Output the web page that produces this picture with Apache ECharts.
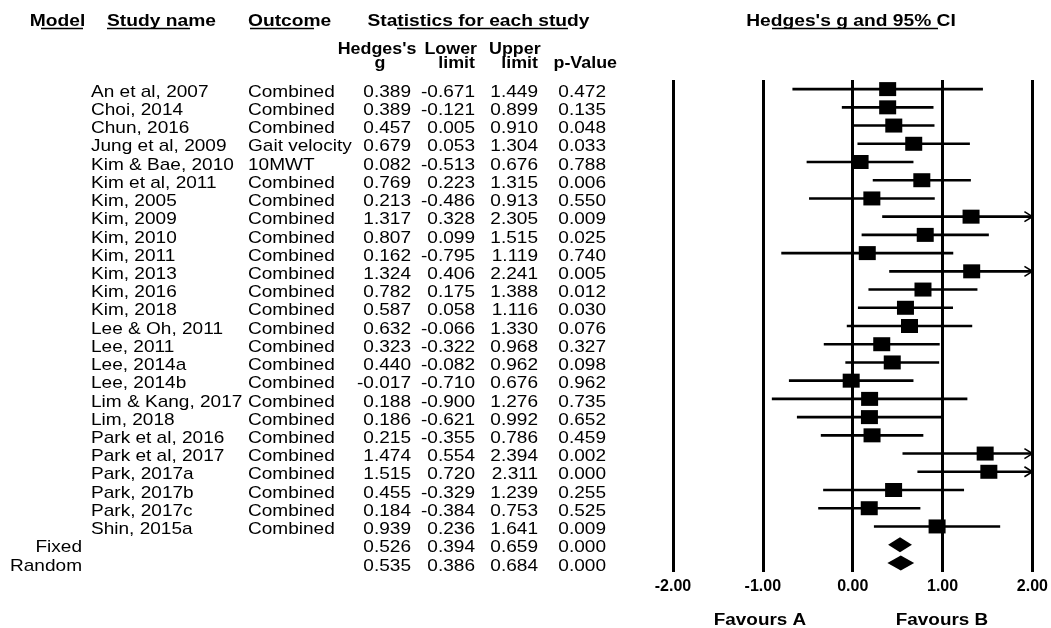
<!DOCTYPE html>
<html><head><meta charset="utf-8">
<script src="https://cdn.jsdelivr.net/npm/echarts@6/dist/echarts.min.js"></script>
<style>html,body{margin:0;padding:0;background:#fff}#c{width:1051px;height:628px}</style>
</head><body><div id="c"></div>
<script>
const studies = ['An et al, 2007','Choi, 2014','Chun, 2016','Jung et al, 2009','Kim & Bae, 2010','Kim et al, 2011','Kim, 2005','Kim, 2009','Kim, 2010','Kim, 2011','Kim, 2013','Kim, 2016','Kim, 2018','Lee & Oh, 2011','Lee, 2011','Lee, 2014a','Lee, 2014b','Lim & Kang, 2017','Lim, 2018','Park et al, 2016','Park et al, 2017','Park, 2017a','Park, 2017b','Park, 2017c','Shin, 2015a'];
const outcomes = ['Combined','Combined','Combined','Gait velocity','10MWT','Combined','Combined','Combined','Combined','Combined','Combined','Combined','Combined','Combined','Combined','Combined','Combined','Combined','Combined','Combined','Combined','Combined','Combined','Combined','Combined'];
const hedgesG = [0.389,0.389,0.457,0.679,0.082,0.769,0.213,1.317,0.807,0.162,1.324,0.782,0.587,0.632,0.323,0.440,-0.017,0.188,0.186,0.215,1.474,1.515,0.455,0.184,0.939];
const lowerLimit = [-0.671,-0.121,0.005,0.053,-0.513,0.223,-0.486,0.328,0.099,-0.795,0.406,0.175,0.058,-0.066,-0.322,-0.082,-0.710,-0.900,-0.621,-0.355,0.554,0.720,-0.329,-0.384,0.236];
const upperLimit = [1.449,0.899,0.910,1.304,0.676,1.315,0.913,2.305,1.515,1.119,2.241,1.388,1.116,1.330,0.968,0.962,0.676,1.276,0.992,0.786,2.394,2.311,1.239,0.753,1.641];
const pValue = [0.472,0.135,0.048,0.033,0.788,0.006,0.550,0.009,0.025,0.740,0.005,0.012,0.030,0.076,0.327,0.098,0.962,0.735,0.652,0.459,0.002,0.000,0.255,0.525,0.009];
const pooledModel = ['Fixed','Random'];
const pooledG = [0.526,0.535];
const pooledLower = [0.394,0.386];
const pooledUpper = [0.659,0.684];
const pooledP = [0.000,0.000];
const xMin = -2, xMax = 2, xInterval = 1;
const headerTitle = "Hedges's g and 95% CI";
const favourLabels = ['Favours A','Favours B'];

const nRows = studies.length + pooledModel.length;
const rowCats = Array.from({length: nRows}, (_, i) => String(i));
const FONT = 'Liberation Sans, Arial, sans-serif';

const tableData = [];
studies.forEach((s, i) => tableData.push([i, '', s, outcomes[i], hedgesG[i], lowerLimit[i], upperLimit[i], pValue[i]]));
pooledModel.forEach((m, j) => tableData.push([studies.length + j, m, '', '', pooledG[j], pooledLower[j], pooledUpper[j], pooledP[j]]));

const studyData = studies.map((s, i) => [i, hedgesG[i], lowerLimit[i], upperLimit[i]]);
const pooledData = pooledModel.map((m, j) => [studies.length + j, pooledG[j], pooledLower[j], pooledUpper[j]]);

const chart = echarts.init(document.getElementById('c'), null, {renderer: 'canvas'});

function txt(x, y, text, align, bold, size, sx) {
  return {type: 'text', x: x, y: y, scaleX: sx, silent: true,
    style: {text: text, fill: '#000', align: align, verticalAlign: 'middle',
      font: (bold ? 'bold ' : '') + size + 'px ' + FONT}};
}
function uline(x1, x2, y) {
  return {type: 'line', silent: true, shape: {x1: x1, y1: y, x2: x2, y2: y}, style: {stroke: '#000', lineWidth: 1.3}};
}

const HS = 17, HX = 1.13, HX2 = 1.05;
const graphics = [
  txt(57.5, 21, 'Model', 'center', true, HS, HX),
  txt(161.5, 21, 'Study name', 'center', true, HS, HX),
  txt(248, 21, 'Outcome', 'left', true, HS, HX),
  txt(478.5, 21, 'Statistics for each study', 'center', true, HS, HX),
  txt(851, 21, headerTitle, 'center', true, HS, HX),
  txt(377, 49, "Hedges's", 'center', true, HS, HX2),
  txt(477, 49, 'Lower', 'right', true, HS, HX2),
  txt(489, 49, 'Upper', 'left', true, HS, HX2),
  txt(380, 63, 'g', 'center', true, HS, HX2),
  txt(475, 63, 'limit', 'right', true, HS, HX2),
  txt(538, 63, 'limit', 'right', true, HS, HX2),
  txt(617, 63, 'p-Value', 'right', true, HS, HX2),
  uline(41, 83, 28.5), uline(107, 190, 28.5), uline(250, 314, 28.5), uline(397, 568, 28.5), uline(772, 938, 28.5),
  txt(760, 621, favourLabels[0], 'center', true, 16, 1.18),
  txt(942, 621, favourLabels[1], 'center', true, 16, 1.18)
];

const DS = 17, DX = 1.12;
const option = {
  backgroundColor: '#fff',
  animation: false,
  grid: {left: 673, right: 15, top: 80, bottom: 56},
  xAxis: {
    type: 'value', min: xMin, max: xMax, interval: xInterval,
    axisLine: {show: false}, axisTick: {show: false},
    splitLine: {show: true, lineStyle: {color: '#000', width: 3}},
    axisLabel: {formatter: v => v.toFixed(2), color: '#000', fontWeight: 'bold', fontSize: 16, fontFamily: FONT, margin: 7}
  },
  yAxis: {
    type: 'category', data: rowCats, inverse: true,
    axisLine: {show: false}, axisTick: {show: false}, axisLabel: {show: false}, splitLine: {show: false}
  },
  graphic: graphics,
  series: [
    {
      type: 'custom', clip: false, silent: true,
      data: tableData,
      encode: {x: 4, y: 0},
      renderItem: function (params, api) {
        const d = tableData[params.dataIndex];
        const y = api.coord([0, d[0]])[1] + 3;
        const els = [];
        if (d[1]) els.push(txt(82, y, d[1], 'right', false, DS, DX));
        if (d[2]) els.push(txt(91, y, d[2], 'left', false, DS, DX));
        if (d[3]) els.push(txt(248, y, d[3], 'left', false, DS, DX));
        els.push(txt(411, y, d[4].toFixed(3), 'right', false, DS, DX));
        els.push(txt(475, y, d[5].toFixed(3), 'right', false, DS, DX));
        els.push(txt(538, y, d[6].toFixed(3), 'right', false, DS, DX));
        els.push(txt(606, y, d[7].toFixed(3), 'right', false, DS, DX));
        return {type: 'group', children: els};
      }
    },
    {
      type: 'custom', clip: false, silent: true,
      data: studyData,
      encode: {x: [1, 2, 3], y: 0},
      renderItem: function (params, api) {
        const row = api.value(0);
        const c = api.coord([api.value(1), row]);
        const lo = api.coord([Math.max(api.value(2), xMin), row]);
        const hiVal = api.value(3);
        const hi = api.coord([Math.min(hiVal, xMax), row]);
        const els = [
          {type: 'line', shape: {x1: lo[0], y1: lo[1], x2: hi[0], y2: hi[1]}, style: {stroke: '#000', lineWidth: 2.6}}
        ];
        if (hiVal > xMax) {
          els.push({type: 'polyline', shape: {points: [[hi[0] - 8, hi[1] - 5], [hi[0], hi[1]], [hi[0] - 8, hi[1] + 5]]}, style: {stroke: '#000', lineWidth: 1.6, fill: null}});
        }
        els.push({type: 'rect', shape: {x: c[0] - 8.5, y: c[1] - 7, width: 17, height: 14}, style: {fill: '#000'}});
        return {type: 'group', children: els};
      }
    },
    {
      type: 'custom', clip: false, silent: true,
      data: pooledData,
      encode: {x: [1, 2, 3], y: 0},
      renderItem: function (params, api) {
        const row = api.value(0);
        const c = api.coord([api.value(1), row]);
        const lo = api.coord([api.value(2), row]);
        const hi = api.coord([api.value(3), row]);
        return {type: 'polygon', shape: {points: [[lo[0], lo[1]], [c[0], c[1] - 7.5], [hi[0], hi[1]], [c[0], c[1] + 7.5]]}, style: {fill: '#000'}};
      }
    }
  ]
};
chart.setOption(option);
</script>
</body></html>
